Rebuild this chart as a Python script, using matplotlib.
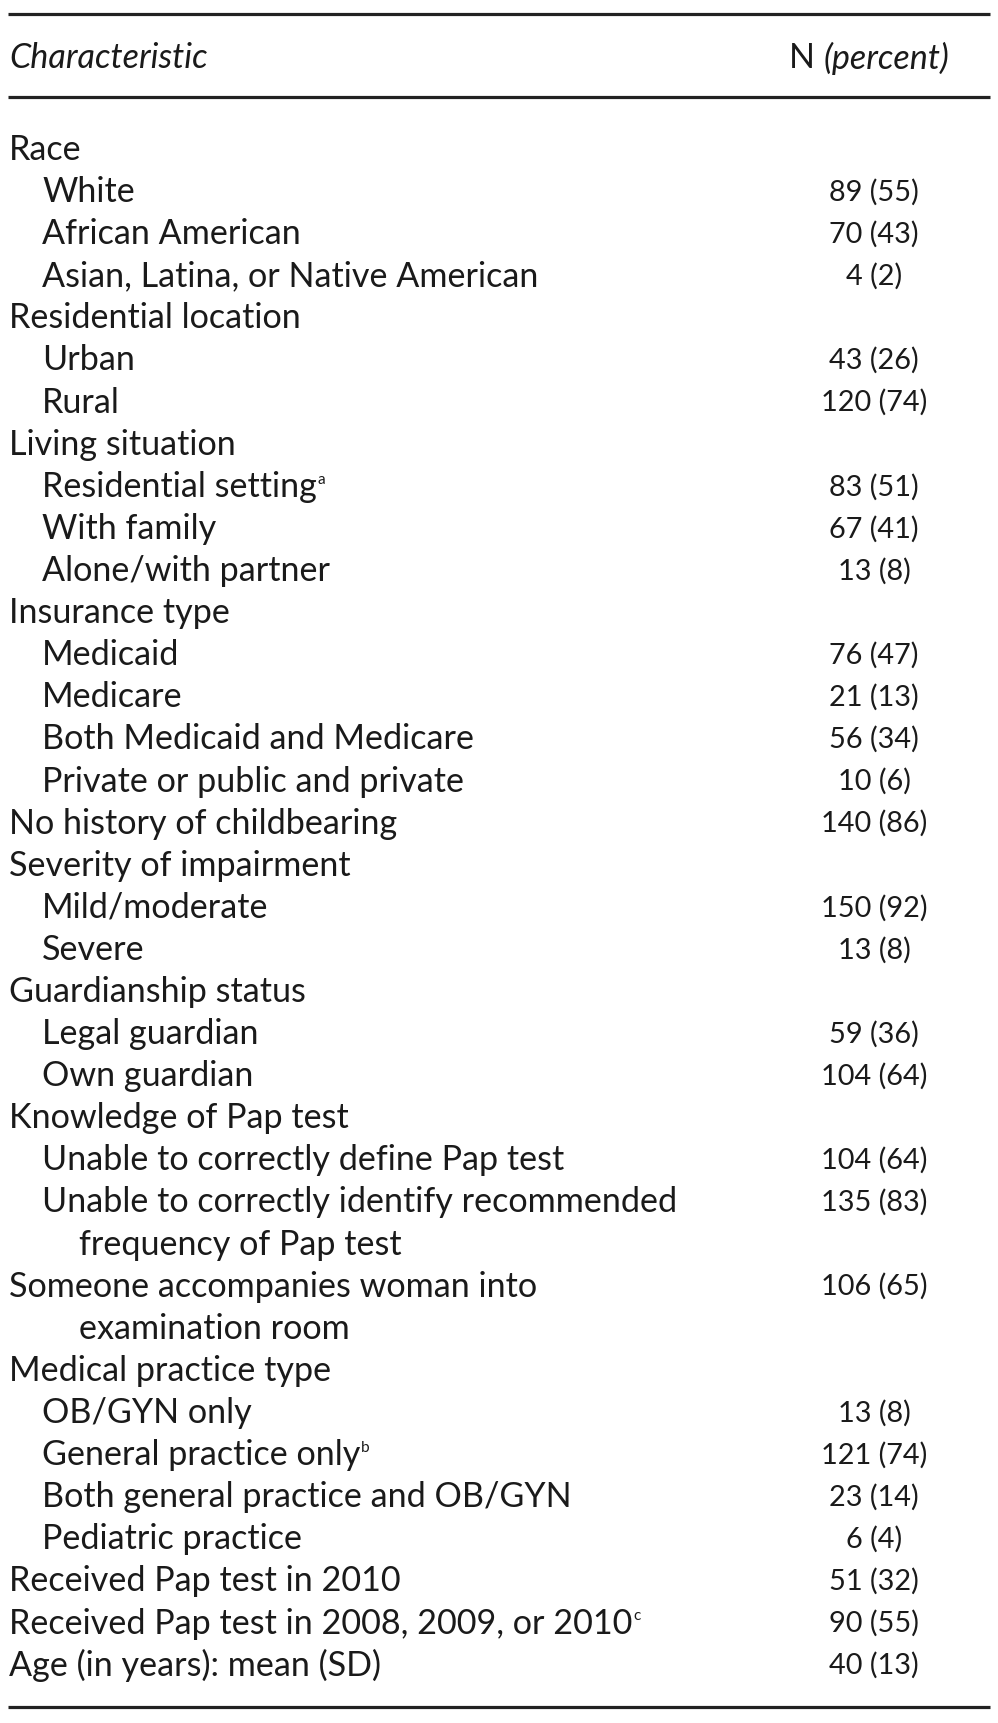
import matplotlib
matplotlib.use("Agg")
import matplotlib.pyplot as plt

# table content
labels = [
    "Race", "White", "African American", "Asian, Latina, or Native American",
    "Residential location", "Urban", "Rural",
    "Living situation", "Residential setting", "With family", "Alone/with partner",
    "Insurance type", "Medicaid", "Medicare", "Both Medicaid and Medicare",
    "Private or public and private",
    "No history of childbearing",
    "Severity of impairment", "Mild/moderate", "Severe",
    "Guardianship status", "Legal guardian", "Own guardian",
    "Knowledge of Pap test", "Unable to correctly define Pap test",
    "Unable to correctly identify recommended", "frequency of Pap test",
    "Someone accompanies woman into", "examination room",
    "Medical practice type", "OB/GYN only", "General practice only",
    "Both general practice and OB/GYN", "Pediatric practice",
    "Received Pap test in 2010", "Received Pap test in 2008, 2009, or 2010",
    "Age (in years): mean (SD)",
]
indent = [0, 1, 1, 1, 0, 1, 1, 0, 1, 1, 1, 0, 1, 1, 1, 1, 0, 0, 1, 1,
          0, 1, 1, 0, 1, 1, 2, 0, 2, 0, 1, 1, 1, 1, 0, 0, 0]
values = [
    "", "89 (55)", "70 (43)", "4 (2)",
    "", "43 (26)", "120 (74)",
    "", "83 (51)", "67 (41)", "13 (8)",
    "", "76 (47)", "21 (13)", "56 (34)", "10 (6)",
    "140 (86)",
    "", "150 (92)", "13 (8)",
    "", "59 (36)", "104 (64)",
    "", "104 (64)", "135 (83)", "",
    "106 (65)", "",
    "", "13 (8)", "121 (74)", "23 (14)", "6 (4)",
    "51 (32)", "90 (55)", "40 (13)",
]
footnotes = {8: "a", 31: "b", 35: "c"}

W, H = 998, 1723
fig = plt.figure(figsize=(W / 100, H / 100), dpi=100)
ax = fig.add_axes([0, 0, 1, 1])
ax.set_xlim(0, W)
ax.set_ylim(H, 0)
ax.axis("off")

font = ["Lato", "DejaVu Sans"]
fs = 24.6
nfs = 20.8
col = "#1a1a1a"

# rules
for y in (14, 97, 1707):
    ax.plot([8, 990], [y, y], color="#222222", lw=2.3, solid_capstyle="butt")

fig.canvas.draw()
renderer = fig.canvas.get_renderer()

# header
ax.text(9, 58, "Characteristic", fontsize=fs, family=font, style="italic",
        va="center", ha="left", color=col)
tp = ax.text(949, 58, "(percent)", fontsize=fs, family=font, style="italic",
             va="center", ha="right", color=col)
bb = tp.get_window_extent(renderer)
xN = ax.transData.inverted().transform((bb.x0, 0))[0]
ax.text(xN - 8, 58, "N", fontsize=fs, family=font, va="center", ha="right", color=col)

y0, dy = 150, 42.1
x_ind = [9, 42, 79]
for i, (lab, lev, val) in enumerate(zip(labels, indent, values)):
    y = y0 + i * dy
    t = ax.text(x_ind[lev], y, lab, fontsize=fs, family=font, va="center",
                ha="left", color=col)
    if val:
        ax.text(874, y, val, fontsize=nfs, family=font, va="center",
                ha="center", color=col)
    if i in footnotes:
        bb = t.get_window_extent(renderer)
        ax.text(bb.x1 + 1, y - 7, footnotes[i], fontsize=fs * 0.45,
                family=font, va="center", ha="left", color=col)

fig.savefig("out.png", dpi=100)
